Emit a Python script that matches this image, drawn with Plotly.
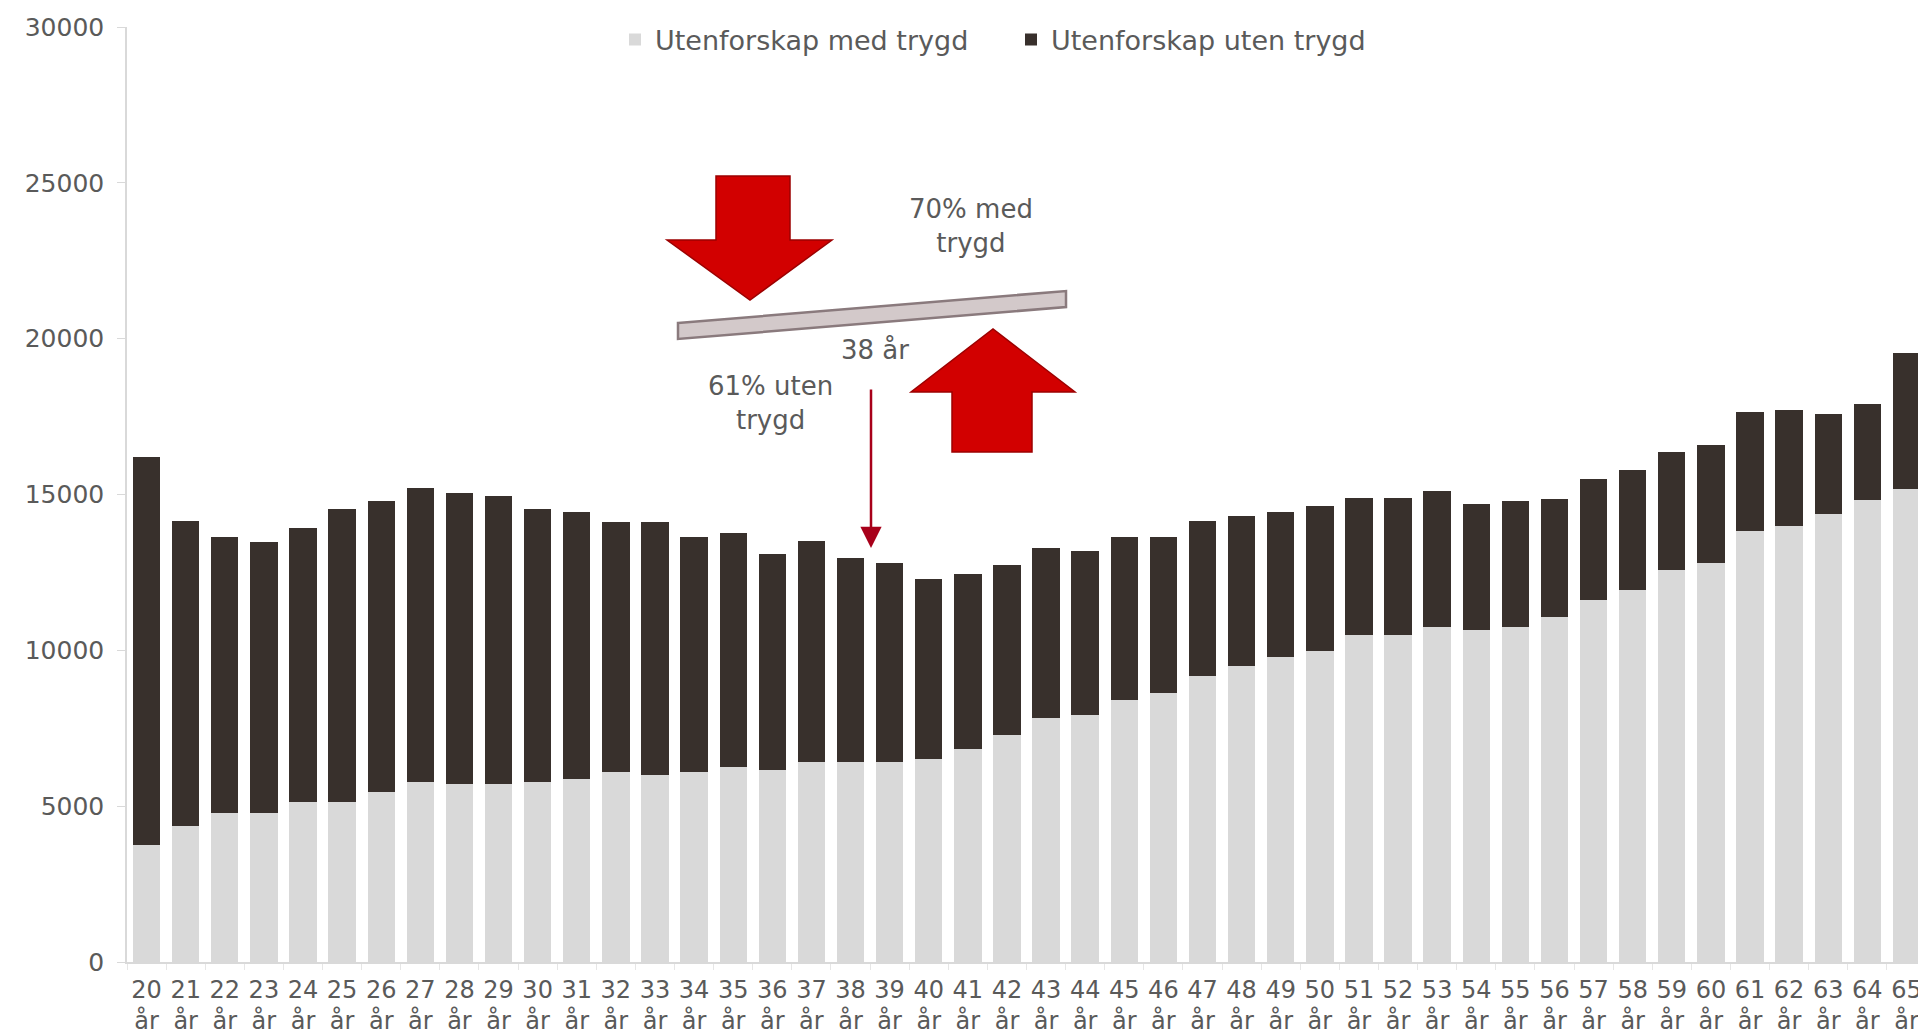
import plotly.graph_objects as go

ages = list(range(20, 66))
age_labels = [f"{a}<br>år" for a in ages]

# Utenforskap med trygd (light, bottom)
med_trygd = [3740, 4375, 4770, 4770, 5120, 5120, 5440, 5790, 5715, 5715,
             5790, 5870, 6110, 5990, 6110, 6270, 6150, 6425, 6425, 6425,
             6500, 6820, 7290, 7845, 7920, 8395, 8630, 9185, 9500, 9775,
             9970, 10485, 10485, 10760, 10640, 10760, 11075, 11630, 11940, 12575,
             12810, 13835, 13990, 14390, 14820, 15190]
# Totals (top of stacked bars)
totals = [16200, 14150, 13640, 13480, 13910, 14545, 14780, 15215, 15060, 14940,
          14545, 14425, 14110, 14110, 13640, 13760, 13090, 13520, 12970, 12810,
          12300, 12455, 12730, 13280, 13200, 13640, 13640, 14150, 14310, 14425,
          14625, 14900, 14900, 15100, 14700, 14780, 14860, 15490, 15800, 16360,
          16595, 17660, 17700, 17580, 17895, 19530]
uten_trygd = [t - m for t, m in zip(totals, med_trygd)]

y_ticks = [0, 5000, 10000, 15000, 20000, 25000, 30000]

FONT = "DejaVu Sans, Arial, sans-serif"
TXT = "#5a5a5a"
OFF = 8                      # default body margin of the page
W, H = 1926 - OFF, 1036 - OFF
# plot area in page pixels: left 127, right 1926, top 27, bottom 962
PL, PR, PT, PB = 127, 1926, 27, 962
L, T = PL - OFF, PT - OFF
R, B = W - (PR - OFF), H - (PB - OFF)
PW, PH = PR - PL, PB - PT


def px(x):
    return (x - PL) / PW


def py(y):
    return (PB - y) / PH


def path(points):
    return "M " + " L ".join(f"{px(x):.5f},{py(y):.5f}" for x, y in points) + " Z"


fig = go.Figure()
fig.add_trace(go.Bar(x=age_labels, y=med_trygd, name="Utenforskap med trygd",
                     marker=dict(color="#d9d9d9", line=dict(width=0))))
fig.add_trace(go.Bar(x=age_labels, y=uten_trygd, name="Utenforskap uten trygd",
                     marker=dict(color="#38302c", line=dict(width=0))))

shapes = []
# Down block arrow
down = [(716, 176), (790, 176), (790, 240), (832, 240), (750, 300),
        (667, 240), (716, 240)]
shapes.append(dict(type="path", xref="paper", yref="paper", path=path(down),
                   fillcolor="#d20000", line=dict(color="#9c0000", width=1.5)))
# Up block arrow
up = [(952, 452), (1032, 452), (1032, 392), (1075, 392), (993, 329),
      (911, 392), (952, 392)]
shapes.append(dict(type="path", xref="paper", yref="paper", path=path(up),
                   fillcolor="#d20000", line=dict(color="#9c0000", width=1.5)))
# Seesaw plank
plank = [(678, 323), (1066, 291), (1066, 307), (678, 339)]
shapes.append(dict(type="path", xref="paper", yref="paper", path=path(plank),
                   fillcolor="#d3c9ca", line=dict(color="#8a7a7d", width=2.5)))
fig.update_layout(shapes=shapes)

annotations = [
    dict(text="70% med<br>trygd", x=px(971), y=py(226)),
    dict(text="38 år", x=px(875), y=py(350)),
    dict(text="61% uten<br>trygd", x=px(770), y=py(403)),
]
for a in annotations:
    fig.add_annotation(xref="paper", yref="paper", showarrow=False,
                       font=dict(family=FONT, size=26, color=TXT),
                       xanchor="center", yanchor="middle", **a)

# thin red pointer arrow
fig.add_annotation(xref="paper", yref="paper", axref="pixel", ayref="pixel",
                   x=px(871), y=py(548), ax=0, ay=-160, text="",
                   showarrow=True, arrowhead=2, arrowsize=1.7, arrowwidth=2.5,
                   arrowcolor="#a8001a")

fig.update_layout(
    width=W, height=H,
    margin=dict(l=L, r=R, t=T, b=B, pad=0),
    paper_bgcolor="white", plot_bgcolor="white",
    barmode="stack", bargap=0.3,
    font=dict(family=FONT, size=24, color=TXT),
    showlegend=True,
    legend=dict(orientation="h", x=px(615), y=py(40), xanchor="left",
                yanchor="middle", font=dict(family=FONT, size=27, color=TXT),
                bgcolor="rgba(0,0,0,0)", entrywidth=351, traceorder="normal"),
    xaxis=dict(range=[-0.5, 45.5], showgrid=False, showline=True,
               linecolor="#d9d9d9", linewidth=1.5, ticks="outside",
               tickson="boundaries", ticklen=6, tickcolor="#e6e6e6",
               ticklabelstandoff=5,
               tickfont=dict(family=FONT, size=24, color=TXT), tickangle=0,
               fixedrange=True),
    yaxis=dict(range=[0, 30000], tickvals=y_ticks,
               ticktext=[str(v) for v in y_ticks], showgrid=False,
               zeroline=False, showline=True, linecolor="#d9d9d9",
               linewidth=1.5, ticks="outside", ticklen=8, tickcolor="#d9d9d9",
               ticklabelstandoff=8,
               tickfont=dict(family=FONT, size=25, color=TXT)),
)

fig.write_html("out.html")
